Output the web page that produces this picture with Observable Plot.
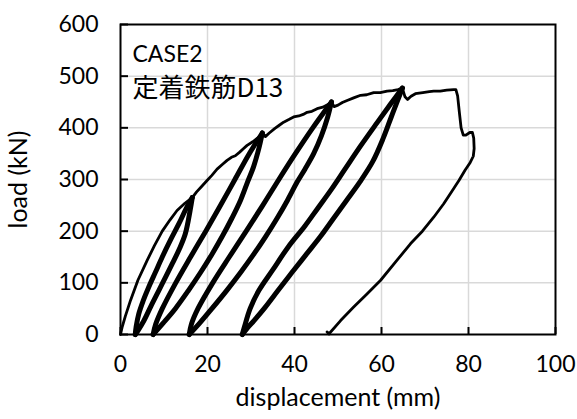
<!DOCTYPE html>
<html>
<head>
<meta charset="utf-8">
<script src="https://cdn.jsdelivr.net/npm/d3@7"></script>
<script src="https://cdn.jsdelivr.net/npm/@observablehq/plot@0.6"></script>
<style>
  html, body { margin: 0; padding: 0; background: #fff; }
</style>
</head>
<body>
<div id="chart"></div>
<script>
// ---- data (displacement mm, load kN) ----
const xTicks = [0, 20, 40, 60, 80, 100];
const yTicks = [0, 100, 200, 300, 400, 500, 600];
const titleLines = ["CASE2", "定着鉄筋D13"];
const xLabel = "displacement (mm)";
const yLabel = "load (kN)";

const envelope0 = [[0,0],[0.4,15],[1.1,35],[2.3,66],[4.0,105],[6.1,143],[7.8,172],[9.6,200],[11.4,222],[13.0,240],[14.8,254],[16.5,265]];
const unload1 = [[16.5,265],[16.0,240],[14.9,195],[13.5,165],[11.9,137],[10.3,110],[8.8,85],[7.0,55],[5.4,27],[4.2,10],[3.4,0]];
const reload1 = [[3.4,0],[3.6,15],[4.2,40],[5.2,65],[6.5,92],[8.0,120],[9.6,150],[11.5,183],[13.4,214],[15.0,242],[16.5,265]];
const envelope1 = [[16.5,265],[17.5,276],[18.8,288],[19.9,298],[21.0,308],[22.2,320],[23.4,329],[24.5,337],[25.5,343],[26.4,346],[27.4,353],[28.3,360],[29.1,366],[30.4,373],[31.8,382],[32.6,390]];
const unload2 = [[32.6,390],[31.8,360],[30.6,325],[29.2,295],[27.6,260],[25.6,225],[23.4,190],[21.0,155],[18.4,120],[15.6,85],[12.6,50],[9.8,22],[7.5,0]];
const reload2 = [[7.5,0],[8.1,20],[9.6,50],[12.7,100],[16.1,150],[19.6,200],[23.0,250],[26.3,300],[29.6,350],[32.6,390]];
const envelope2 = [[32.6,390],[33.3,383],[34.2,390],[35.5,399],[36.5,405],[37.5,411],[38.7,416],[39.8,421],[41.0,423],[42.0,426],[42.9,430],[44.0,432],[45.2,437],[46.5,440],[47.9,446],[48.5,450]];
const unload3 = [[48.5,450],[47.6,420],[46.2,385],[44.4,350],[42.4,320],[40.6,295],[38.4,260],[36.0,225],[33.4,190],[30.6,155],[27.6,120],[24.4,85],[21.0,50],[18.2,22],[15.8,0]];
const reload3 = [[15.8,0],[16.3,20],[17.8,50],[21.2,100],[25.0,150],[28.9,200],[32.7,250],[36.4,300],[40.2,350],[44.2,400],[48.5,450]];
const envelope3 = [[48.5,450],[49.1,441],[50.0,444],[51.0,449],[52.1,453],[53.6,458],[55.2,463],[56.6,464],[58.2,468],[59.7,468],[61.3,471],[62.6,472],[63.8,474],[64.8,477]];
const unload4 = [[64.8,477],[63.8,455],[62.2,420],[60.4,380],[58.0,335],[55.0,295],[52.0,260],[49.0,225],[46.0,190],[42.7,155],[39.4,120],[36.2,85],[33.2,52],[30.7,27],[29.1,12],[28.0,0]];
const reload4 = [[28.0,0],[28.5,15],[29.8,50],[31.8,85],[35.0,125],[38.6,170],[42.4,210],[45.4,245],[48.4,280],[51.6,320],[55.2,365],[59.0,410],[62.0,445],[64.8,477]];
const envelope4 = [[64.8,477],[65.4,460],[66.0,455],[66.8,461],[67.8,466],[69.5,468],[71.0,470],[72.0,471],[73.5,471],[75.0,473],[76.6,474],[77.1,474],[77.5,462],[77.9,430],[78.3,400],[78.8,386],[79.4,386],[80.3,391],[80.9,391],[81.2,380],[81.3,360],[81.1,345],[80.4,333],[79.2,318],[77.8,298],[76.0,275],[74.3,253],[72.0,227],[69.4,200],[66.7,176],[63.2,140],[59.8,105],[56.6,78],[53.6,53],[50.6,27],[47.9,1],[47.5,5]];

const envelopeSegs = [envelope0, envelope1, envelope2, envelope3, envelope4];
const loopSegs = [unload1, reload1, unload2, reload2, unload3, reload3, unload4, reload4];

function toRows(segs) {
  const rows = [];
  segs.forEach((s, i) => s.forEach(([x, y]) => rows.push({x, y, seg: i})));
  return rows;
}
const envRows = toRows(envelopeSegs);
const loopRows = toRows(loopSegs);

const font = "Lato, 'Noto Sans CJK JP', sans-serif";

const chart = Plot.plot({
  width: 577,
  height: 419,
  marginLeft: 120,
  marginRight: 22,
  marginTop: 24,
  marginBottom: 85,
  x: {domain: [0, 100]},
  y: {domain: [0, 600]},
  style: {fontFamily: font, fontSize: "23px", color: "#000", background: "#fff", overflow: "visible"},
  marks: [
    Plot.gridX(xTicks.slice(1, -1), {stroke: "#d9d9d9", strokeOpacity: 1, strokeWidth: 1.5}),
    Plot.gridY(yTicks.slice(1, -1), {stroke: "#d9d9d9", strokeOpacity: 1, strokeWidth: 1.5}),
    Plot.line(loopRows, {x: "x", y: "y", z: "seg", stroke: "#000", strokeWidth: 5, curve: "catmull-rom"}),
    Plot.line(envRows, {x: "x", y: "y", z: "seg", stroke: "#000", strokeWidth: 2.8, curve: "linear", strokeLinejoin: "round"}),
    Plot.frame({stroke: "#000", strokeWidth: 2}),
    Plot.axisX({ticks: xTicks, tickSize: -7, strokeWidth: 2, tickFormat: () => "", label: null}),
    Plot.axisY({ticks: yTicks, tickSize: -8, strokeWidth: 2, tickFormat: () => "", label: null}),
    Plot.axisX({ticks: xTicks, tickSize: 0, tickPadding: 21, fontSize: 23, label: null}),
    Plot.axisY({ticks: yTicks, tickSize: 0, tickPadding: 22, fontSize: 23, label: null}),
    Plot.text([yLabel], {text: d => d, frameAnchor: "left", dx: -102, rotate: -90, fontSize: 25, textAnchor: "middle"}),
    Plot.text([xLabel], {text: d => d, frameAnchor: "bottom", dy: 71, fontSize: 25, textAnchor: "middle"}),
    Plot.text([titleLines[0]], {text: d => d, frameAnchor: "top-left", dx: 12, dy: 21, fontSize: 23, textAnchor: "start"}),
    Plot.text([titleLines[1]], {text: d => d, frameAnchor: "top-left", dx: 12, dy: 54, fontSize: 26, fontFamily: "'Noto Sans CJK JP', sans-serif", textAnchor: "start"})
  ]
});
document.getElementById("chart").appendChild(chart);
</script>
</body>
</html>
